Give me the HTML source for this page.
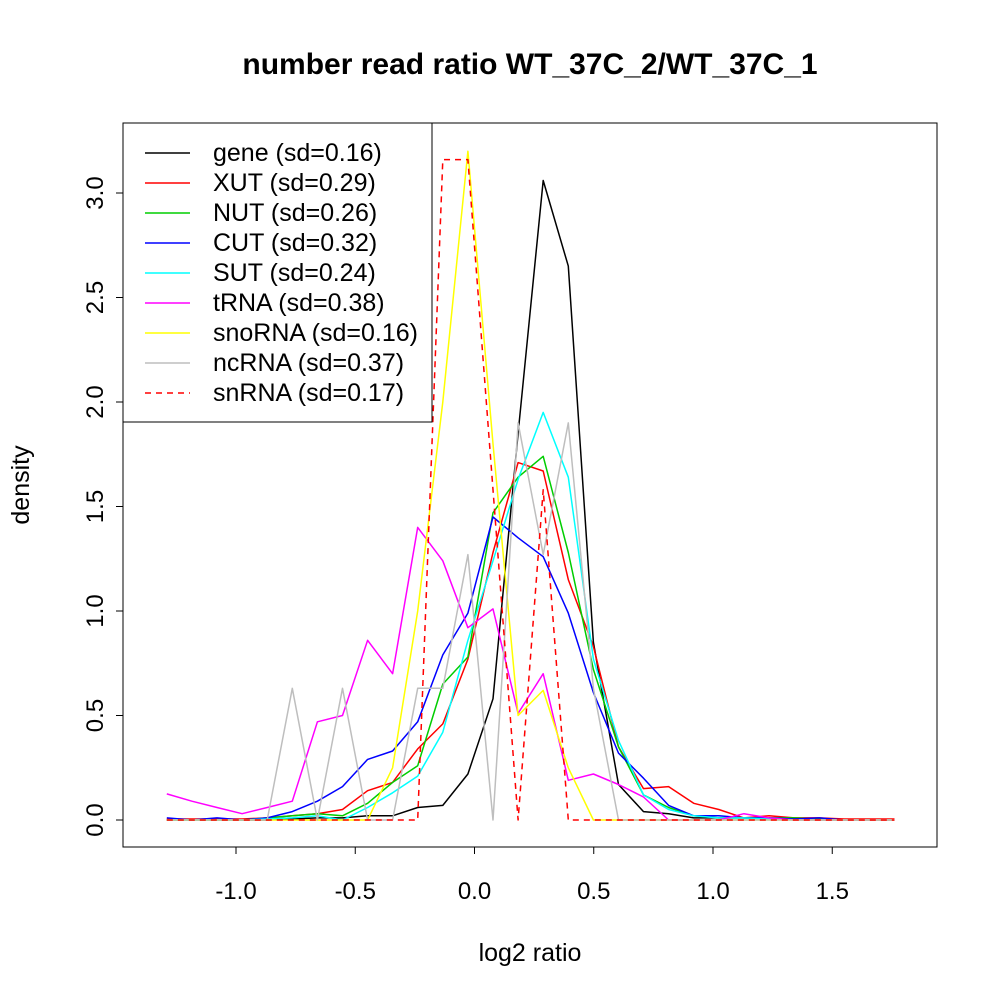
<!DOCTYPE html>
<html><head><meta charset="utf-8"><style>
html,body{margin:0;padding:0;background:#fff;}
svg{display:block;font-family:"Liberation Sans",sans-serif;}
</style></head><body>
<svg id="chart" width="1000" height="1000" viewBox="0 0 1000 1000" xmlns="http://www.w3.org/2000/svg">
<rect width="1000" height="1000" fill="#fff"/>
<text x="530" y="74" font-size="30" font-weight="bold" text-anchor="middle">number read ratio WT_37C_2/WT_37C_1</text>
<rect x="123" y="123" width="814" height="724" fill="none" stroke="#000" stroke-width="1"/>
<text x="530" y="961" font-size="25" text-anchor="middle">log2 ratio</text>
<text x="0" y="0" font-size="25" text-anchor="middle" transform="translate(29,485) rotate(-90)">density</text>
<g id="xaxis"></g>
<g id="yaxis"></g>
<g id="series"></g>
<g id="legend"></g>
</svg>
<script>
const xStart = -1.29;
const xStep = 0.1052;
const xTicks = [-1.0, -0.5, 0.0, 0.5, 1.0, 1.5];
const xTickLabels = ["-1.0", "-0.5", "0.0", "0.5", "1.0", "1.5"];
const yTicks = [0, 0.5, 1.0, 1.5, 2.0, 2.5, 3.0];
const yTickLabels = ["0.0", "0.5", "1.0", "1.5", "2.0", "2.5", "3.0"];
const seriesNames = ["gene (sd=0.16)","XUT (sd=0.29)","NUT (sd=0.26)","CUT (sd=0.32)","SUT (sd=0.24)","tRNA (sd=0.38)","snoRNA (sd=0.16)","ncRNA (sd=0.37)","snRNA (sd=0.17)"];
const seriesColors = ["#000000","#ff0000","#00cd00","#0000ff","#00ffff","#ff00ff","#ffff00","#bebebe","#ff0000"];
const gene   = [0,0,0,0,0,0.005,0.01,0.01,0.02,0.02,0.06,0.07,0.22,0.58,1.85,3.06,2.65,0.85,0.17,0.04,0.03,0.01,0.01,0.01,0.005,0.005,0,0,0,0];
const xut    = [0.005,0.005,0.005,0.005,0.01,0.02,0.03,0.05,0.14,0.18,0.34,0.46,0.77,1.28,1.71,1.67,1.15,0.83,0.35,0.15,0.16,0.08,0.05,0.01,0.02,0.01,0.01,0.005,0.005,0.005];
const nut    = [0,0,0,0,0.01,0.02,0.03,0.02,0.08,0.18,0.26,0.65,0.78,1.47,1.64,1.74,1.28,0.72,0.35,0.12,0.06,0.02,0.01,0.01,0.01,0.01,0.005,0,0,0];
const cut    = [0.01,0,0.01,0,0.01,0.04,0.09,0.16,0.29,0.33,0.47,0.79,0.99,1.45,1.35,1.26,0.99,0.61,0.32,0.2,0.07,0.02,0.02,0.01,0.01,0.005,0.01,0,0,0];
const sut    = [0,0,0,0,0.005,0.01,0.02,0,0.06,0.13,0.21,0.42,0.86,1.24,1.63,1.95,1.64,0.77,0.38,0.12,0.05,0.02,0.01,0.01,0.005,0,0,0,0,0];
const trna   = [0.125,0.09,0.06,0.03,0.06,0.09,0.47,0.5,0.86,0.7,1.4,1.24,0.92,1.01,0.51,0.7,0.19,0.22,0.17,0.11,0.0,0,0,0.03,0.01,0,0,0,0,0];
const snorna = [0,0,0,0,0,0,0,0,0,0.25,1.0,2.0,3.2,1.8,0.5,0.62,0.25,0,0,0,0,0,0,0,0,0,0,0,0,0];
const ncrna  = [0,0,0,0,0,0.63,0,0.63,0,0,0.63,0.63,1.27,0,1.9,1.27,1.9,0.63,0,0,0,0,0,0,0,0,0,0,0,0];
const snrna  = [0,0,0,0,0,0,0,0,0,0,0,3.16,3.16,1.58,0,1.58,0,0,0,0,0,0,0,0,0,0,0,0,0,0];
const allSeries = [gene,xut,nut,cut,sut,trna,snorna,ncrna,snrna];
const seriesKeys = ["gene","xut","nut","cut","sut","trna","snorna","ncrna","snrna"];

const NS = "http://www.w3.org/2000/svg";
function xPix(v){ return 474.5 + v*238.5; }
function yPix(v){ return 820 - v*209; }
function mk(tag, attrs, parent){ const e=document.createElementNS(NS,tag); for(const k in attrs) e.setAttribute(k,attrs[k]); parent.appendChild(e); return e; }

const xa=document.getElementById('xaxis');
mk('line',{x1:xPix(xTicks[0]),x2:xPix(xTicks[xTicks.length-1]),y1:847,y2:847,stroke:'#000'},xa);
xTicks.forEach((t,i)=>{
  const l=mk('line',{x1:xPix(t),x2:xPix(t),y1:847,y2:854,stroke:'#000'},xa);
  
  
  const tx=mk('text',{x:xPix(t),y:899,'font-size':24,'text-anchor':'middle'},xa);
  tx.textContent=xTickLabels[i];
  
  
});
const ya=document.getElementById('yaxis');
mk('line',{x1:123,x2:123,y1:yPix(yTicks[0]),y2:yPix(yTicks[yTicks.length-1]),stroke:'#000'},ya);
yTicks.forEach((t,i)=>{
  const l=mk('line',{x1:116,x2:123,y1:yPix(t),y2:yPix(t),stroke:'#000'},ya);
  
  
  const tx=mk('text',{x:0,y:0,'font-size':24,'text-anchor':'middle',transform:`translate(103,${yPix(t)}) rotate(-90)`},ya);
  tx.textContent=yTickLabels[i];
  
  
});
const sg=document.getElementById('series');
allSeries.forEach((arr,si)=>{
  const pts=arr.map((v,k)=>xPix(xStart+k*xStep).toFixed(1)+','+yPix(v).toFixed(1)).join(' ');
  const attrs={points:pts,fill:'none',stroke:seriesColors[si],'stroke-width':1.5,'stroke-linejoin':'round'};
  if(si===8) attrs['stroke-dasharray']='6,5';
  const p=mk('polyline',attrs,sg);
  
  
});
const lg=document.getElementById('legend');
const lb=mk('rect',{x:123,y:123,width:309,height:299,fill:'#fff',stroke:'#000'},lg);


seriesNames.forEach((n,i)=>{
  const y=153+i*30;
  const g=mk('g',{},lg);
  
  
  const a={x1:145,x2:190,y1:y,y2:y,stroke:seriesColors[i],'stroke-width':1.5};
  if(i===8) a['stroke-dasharray']='6,5';
  mk('line',a,g);
  const t=mk('text',{x:213,y:y+8,'font-size':25},g);
  t.textContent=n;
});
</script>
</body></html>
